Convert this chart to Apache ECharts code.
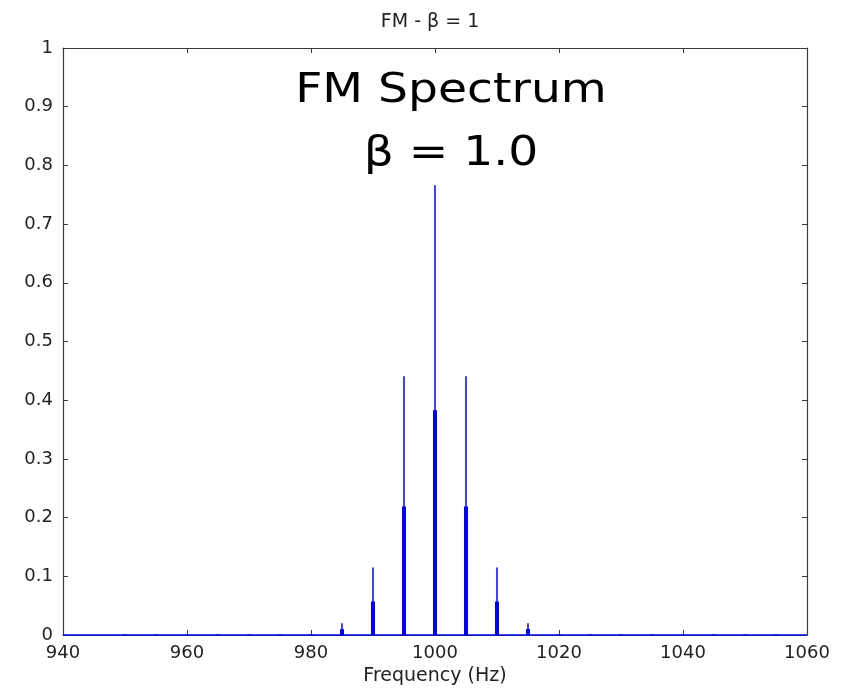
<!DOCTYPE html>
<html>
<head>
<meta charset="utf-8">
<title>FM Spectrum</title>
<script src="https://cdn.jsdelivr.net/npm/echarts@6/dist/echarts.min.js"></script>
<style>
    html, body { margin: 0; padding: 0; background: #fff; }
    #main { width: 846px; height: 698px; }
</style>
</head>
<body>
<div id="main"></div>
<script>
    // spectral lines (Hz, peak value, value of the bin beside it)
    var freqs = [950, 955, 960, 965, 970, 975, 980, 985, 990, 995, 1000, 1005, 1010, 1015, 1020, 1025, 1030, 1035, 1040, 1045, 1050, 1055];
    var peaks = [0.002, 0.002, 0.002, 0.002, 0.002, 0.002, 0.0025, 0.020, 0.115, 0.441, 0.766, 0.441, 0.115, 0.020, 0.0025, 0.002, 0.002, 0.002, 0.002, 0.002, 0.002, 0.002];
    var shoulders = [0.001, 0.001, 0.001, 0.001, 0.001, 0.001, 0.0012, 0.010, 0.057, 0.219, 0.383, 0.219, 0.057, 0.010, 0.0012, 0.001, 0.001, 0.001, 0.001, 0.001, 0.001, 0.001];
    var xTicks = [940, 960, 980, 1000, 1020, 1040, 1060];
    var yTicks = [0, 0.1, 0.2, 0.3, 0.4, 0.5, 0.6, 0.7, 0.8, 0.9, 1];

    // thin stroke up to each peak, along a zero baseline
    var pts = [[xTicks[0], 0]];
    var side = [];
    for (var i = 0; i < freqs.length; i++) {
        pts.push([freqs[i], 0]);
        pts.push([freqs[i], peaks[i]]);
        pts.push([freqs[i], 0]);
        side.push([freqs[i], shoulders[i]]);
    }
    pts.push([xTicks[xTicks.length - 1], 0]);

    var font = 'DejaVu Sans';
    var axisCol = '#3a3a3a';
    var labelCol = '#222';

    function xAx(pos, labels) {
        return {
            type: 'value',
            position: pos,
            min: xTicks[0],
            max: xTicks[xTicks.length - 1],
            interval: xTicks[1] - xTicks[0],
            axisLine: { show: true, onZero: false, lineStyle: { color: axisCol, width: 1.2 } },
            axisTick: { show: true, inside: true, length: 5, lineStyle: { color: axisCol } },
            axisLabel: {
                show: labels, margin: 9, fontFamily: font, fontSize: 18, color: labelCol,
                formatter: function (v) { return String(v); }
            },
            splitLine: { show: false }
        };
    }
    function yAx(pos, labels) {
        return {
            type: 'value',
            position: pos,
            min: yTicks[0],
            max: yTicks[yTicks.length - 1],
            interval: 0.1,
            axisLine: { show: true, onZero: false, lineStyle: { color: axisCol, width: 1.2 } },
            axisTick: { show: true, inside: true, length: 5, lineStyle: { color: axisCol } },
            axisLabel: {
                show: labels, margin: 10, fontFamily: font, fontSize: 18, color: labelCol,
                formatter: function (v) { return String(Math.round(v * 10) / 10); }
            },
            splitLine: { show: false }
        };
    }

    var xBottom = xAx('bottom', true);
    xBottom.name = 'Frequency (Hz)';
    xBottom.nameLocation = 'middle';
    xBottom.nameGap = 30;
    xBottom.nameTextStyle = { fontFamily: font, fontSize: 19, color: labelCol };

    var chart = echarts.init(document.getElementById('main'));
    var option = {
        animation: false,
        backgroundColor: '#fff',
        grid: { left: 63, right: 39, top: 48, bottom: 63, containLabel: false },
        xAxis: [xBottom, xAx('top', false)],
        yAxis: [yAx('left', true), yAx('right', false)],
        graphic: [
            {
                type: 'text', x: 430, y: 22,
                style: { text: 'FM - β = 1', font: '19px "DejaVu Sans"', fill: labelCol, align: 'center', verticalAlign: 'middle' }
            },
            {
                type: 'text', x: 451, y: 92, scaleX: 1.18,
                style: { text: 'FM Spectrum', font: '40px "DejaVu Sans"', fill: '#000', align: 'center', verticalAlign: 'middle' }
            },
            {
                type: 'text', x: 451, y: 155, scaleX: 1.18,
                style: { text: 'β = 1.0', font: '40px "DejaVu Sans"', fill: '#000', align: 'center', verticalAlign: 'middle' }
            }
        ],
        series: [
            {
                type: 'bar',
                xAxisIndex: 0,
                yAxisIndex: 0,
                data: side,
                barWidth: 4,
                itemStyle: { color: '#0000ff' },
                z: 4
            },
            {
                type: 'line',
                xAxisIndex: 0,
                yAxisIndex: 0,
                data: pts,
                showSymbol: false,
                lineStyle: { color: '#0000ff', width: 1.5 },
                z: 5
            }
        ]
    };
    chart.setOption(option);
</script>
</body>
</html>
